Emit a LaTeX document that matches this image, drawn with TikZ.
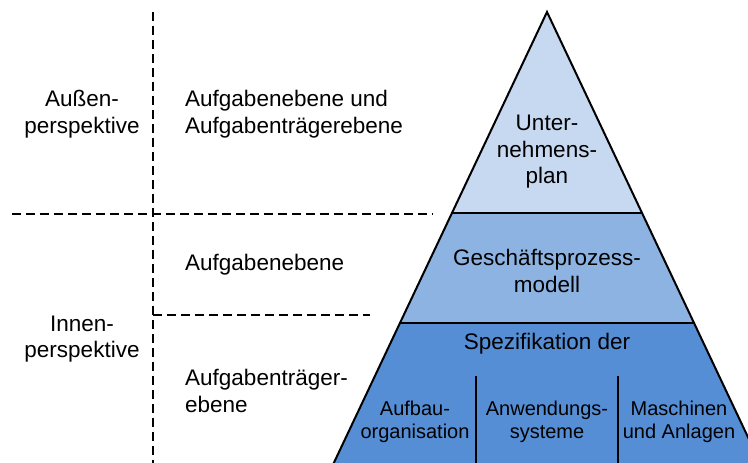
\documentclass[tikz,border=0pt]{standalone}
\usepackage{fontspec}
\setmainfont{Liberation Sans}
\definecolor{lvlA}{HTML}{C6D9F1}
\definecolor{lvlB}{HTML}{8DB3E2}
\definecolor{lvlC}{HTML}{558ED5}
\begin{document}
\begin{tikzpicture}[x=1pt,y=-1pt,
  layer/.style={draw=black,line width=2pt,line join=miter},
  sep/.style={draw=black,line width=1.2pt,dash pattern=on 9pt off 5pt},
  lbl/.style={inner sep=0pt,font=\fontsize{22.5}{26.5}\selectfont},
  lblc/.style={lbl,align=center},
  lbls/.style={inner sep=0pt,align=center,font=\fontsize{20}{23.5}\selectfont},
  lbll/.style={lbl,align=left,anchor=west}]
\useasboundingbox (0,0) rectangle (748,463);
\clip (0,0) rectangle (748,463);
% pyramid corners
\coordinate (apex) at (547,12);
\coordinate (aL) at (452,213);
\coordinate (aR) at (642,213);
\coordinate (bL) at (400,323);
\coordinate (bR) at (694,323);
\coordinate (cL) at (330,471);
\coordinate (cR) at (764,471);
\fill[lvlC] (bL) -- (bR) -- (cR) -- (cL) -- cycle;
\fill[lvlB] (aL) -- (aR) -- (bR) -- (bL) -- cycle;
\fill[lvlA] (apex) -- (aR) -- (aL) -- cycle;
\draw[layer] (cL) -- (apex) -- (cR);
\draw[layer] (aL) -- (aR);
\draw[layer] (bL) -- (bR);
\coordinate (d1t) at (476,376);
\coordinate (d1b) at (476,470);
\coordinate (d2t) at (618,376);
\coordinate (d2b) at (618,470);
\draw[layer] (d1t) -- (d1b);
\draw[layer] (d2t) -- (d2b);
% pyramid texts
\node[lblc] (plan) at (547,152) {Unter-\\nehmens-\\plan};
\node[lblc] (gpm) at (547,271) {Geschäftsprozess-\\modell};
\node[lblc] (spez) at (547,344) {Spezifikation der};
\node[lbls] (aufbau) at (415,422) {Aufbau-\\organisation};
\node[lbls] (anw) at (547,422) {Anwendungs-\\systeme};
\node[lbls] (masch) at (679,422) {Maschinen\\und Anlagen};
% separators
\coordinate (vt) at (153,12);
\coordinate (vb) at (153,463);
\coordinate (h1l) at (12,214);
\coordinate (h1r) at (433,214);
\coordinate (h2l) at (153,315);
\coordinate (h2r) at (370,315);
\draw[sep] (vt) -- (vb);
\draw[sep] (h1l) -- (h1r);
\draw[sep] (h2l) -- (h2r);
% left labels
\node[lblc] (aussen) at (82,114) {Außen-\\perspektive};
\node[lblc] (innen) at (82,339) {Innen-\\perspektive};
\node[lbll] (ebene1) at (185,114) {Aufgabenebene und\\Aufgabenträgerebene};
\node[lbll] (ebene2) at (185,265) {Aufgabenebene};
\node[lbll] (ebene3) at (185,391) {Aufgabenträger-\\ebene};
\end{tikzpicture}
\end{document}
